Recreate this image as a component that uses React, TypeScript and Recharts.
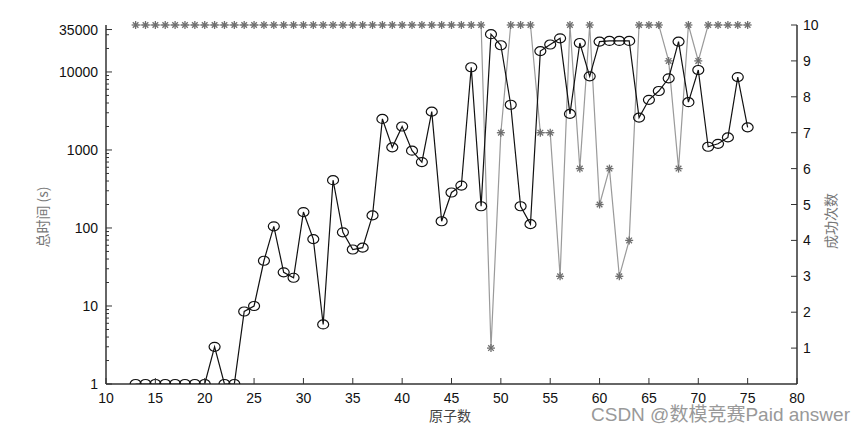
import React from "react";
import { ComposedChart, Line, XAxis, YAxis } from "recharts";

const atoms = [
  13, 14, 15, 16, 17, 18, 19, 20, 21, 22, 23, 24, 25, 26, 27, 28, 29, 30, 31,
  32, 33, 34, 35, 36, 37, 38, 39, 40, 41, 42, 43, 44, 45, 46, 47, 48, 49, 50,
  51, 52, 53, 54, 55, 56, 57, 58, 59, 60, 61, 62, 63, 64, 65, 66, 67, 68, 69,
  70, 71, 72, 73, 74, 75,
];

// 总时间 (s)
const totalTime = [
  1, 1, 1, 1, 1, 1, 1, 1, 3, 1, 1, 8.5, 10, 38, 105, 27, 23, 160, 72, 5.8, 410,
  88, 53, 56, 145, 2500, 1080, 2000, 980, 700, 3100, 122, 285, 350, 11500, 190,
  30500, 22000, 3800, 190, 112, 18500, 22500, 27000, 2900, 23500, 8800, 24500,
  25000, 25000, 25000, 2600, 4400, 5700, 8300, 24500, 4100, 10600, 1100, 1200,
  1450, 8600, 1950,
];

// 成功次数
const successCount = [
  10, 10, 10, 10, 10, 10, 10, 10, 10, 10, 10, 10, 10, 10, 10, 10, 10, 10, 10,
  10, 10, 10, 10, 10, 10, 10, 10, 10, 10, 10, 10, 10, 10, 10, 10, 10, 1, 7, 10,
  10, 10, 7, 7, 3, 10, 6, 10, 5, 6, 3, 4, 10, 10, 10, 9, 6, 10, 9, 10, 10, 10,
  10, 10,
];

const xTicks = [10, 15, 20, 25, 30, 35, 40, 45, 50, 55, 60, 65, 70, 75, 80];
const timeMajor = [1, 10, 100, 1000, 10000, 35000];
const timeMinor = [
  2, 3, 4, 5, 6, 7, 8, 9, 20, 30, 40, 50, 60, 70, 80, 90, 200, 300, 400, 500,
  600, 700, 800, 900, 2000, 3000, 4000, 5000, 6000, 7000, 8000, 9000, 20000,
  30000,
];
const countTicks = [1, 2, 3, 4, 5, 6, 7, 8, 9, 10];

const data = atoms.map((a, i) => ({
  atoms: a,
  time: totalTime[i],
  count: successCount[i],
}));

const font = "'Liberation Sans', Arial, sans-serif";
const cjk = "'Noto Sans CJK SC', sans-serif";
const axisColor = "#333";

const LeftTick = (props: any) => {
  const { x, y, payload } = props;
  const major = timeMajor.includes(payload.value);
  return (
    <g>
      <line x1={x} x2={x + (major ? 6 : 3)} y1={y} y2={y} stroke={axisColor} />
      {major && (
        <text x={x - 8} y={y + 5} textAnchor="end" fontSize={14} fill="#111" fontFamily={font}>
          {payload.value}
        </text>
      )}
    </g>
  );
};

const RightTick = (props: any) => {
  const { x, y, payload } = props;
  return (
    <g>
      <line x1={x} x2={x - 6} y1={y} y2={y} stroke={axisColor} />
      <text x={x + 6} y={y + 5} textAnchor="start" fontSize={14} fill="#111" fontFamily={font}>
        {payload.value}
      </text>
    </g>
  );
};

const BottomTick = (props: any) => {
  const { x, y, payload } = props;
  return (
    <g>
      <line x1={x} x2={x} y1={y} y2={y - 6} stroke={axisColor} />
      <text x={x} y={y + 19} textAnchor="middle" fontSize={14} fill="#111" fontFamily={font}>
        {payload.value}
      </text>
    </g>
  );
};

const Ring = (props: any) => {
  const { cx, cy, index } = props;
  return <ellipse key={"r" + index} cx={cx} cy={cy} rx={5.5} ry={4.5} fill="none" stroke="#111" strokeWidth={1.2} />;
};

const Star = (props: any) => {
  const { cx, cy, index } = props;
  const r = 4;
  const d = r * 0.7;
  return (
    <g key={"s" + index} stroke="#6e6e6e" strokeWidth={1.3}>
      <line x1={cx - r} x2={cx + r} y1={cy} y2={cy} />
      <line x1={cx} x2={cx} y1={cy - r} y2={cy + r} />
      <line x1={cx - d} x2={cx + d} y1={cy - d} y2={cy + d} />
      <line x1={cx - d} x2={cx + d} y1={cy + d} y2={cy - d} />
    </g>
  );
};

export default function App() {
  return (
    <div style={{ position: "relative", width: 865, height: 431, background: "#fff" }}>
      <style>{"body{margin:0}"}</style>
      <ComposedChart
        width={865}
        height={431}
        data={data}
        margin={{ top: 25, right: 0, bottom: 0, left: 0 }}
      >
        <XAxis
          dataKey="atoms"
          type="number"
          domain={[10, 80]}
          ticks={xTicks}
          height={47}
          tickSize={0}
          tickMargin={0}
          tickLine={false}
          tick={<BottomTick />}
          axisLine={{ stroke: axisColor, strokeWidth: 1.5 }}
          interval={0}
        />
        <YAxis
          yAxisId="time"
          scale="log"
          domain={[1, 40000]}
          allowDataOverflow
          ticks={[...timeMajor, ...timeMinor]}
          width={106}
          tickSize={0}
          tickMargin={0}
          tickLine={false}
          tick={<LeftTick />}
          axisLine={{ stroke: axisColor, strokeWidth: 1.5 }}
          interval={0}
        />
        <YAxis
          yAxisId="count"
          orientation="right"
          domain={[0, 10]}
          ticks={countTicks}
          width={68}
          tickSize={0}
          tickMargin={0}
          tickLine={false}
          tick={<RightTick />}
          axisLine={{ stroke: axisColor, strokeWidth: 1.5 }}
          interval={0}
        />
        <Line
          yAxisId="count"
          dataKey="count"
          stroke="#9a9a9a"
          strokeWidth={1.2}
          dot={Star}
          activeDot={false}
          isAnimationActive={false}
        />
        <Line
          yAxisId="time"
          dataKey="time"
          stroke="#111"
          strokeWidth={1.2}
          dot={Ring}
          activeDot={false}
          isAnimationActive={false}
        />
      </ComposedChart>
      <div
        style={{
          position: "absolute",
          left: 42,
          top: 217,
          transform: "translate(-50%, -50%) rotate(-90deg)",
          fontFamily: cjk,
          fontSize: 14,
          color: "#777",
          whiteSpace: "nowrap",
        }}
      >
        总时间 (s)
      </div>
      <div
        style={{
          position: "absolute",
          left: 830,
          top: 221,
          transform: "translate(-50%, -50%) rotate(-90deg)",
          fontFamily: cjk,
          fontSize: 14,
          color: "#777",
          whiteSpace: "nowrap",
        }}
      >
        成功次数
      </div>
      <div
        style={{
          position: "absolute",
          left: 450,
          top: 415,
          transform: "translate(-50%, -50%)",
          fontFamily: cjk,
          fontSize: 14,
          color: "#444",
          whiteSpace: "nowrap",
        }}
      >
        原子数
      </div>
      <div
        style={{
          position: "absolute",
          left: 591,
          top: 412,
          transform: "translate(0, -50%)",
          fontFamily: font,
          fontSize: 19,
          color: "#999",
          whiteSpace: "nowrap",
        }}
      >
        CSDN @<span style={{ fontFamily: cjk }}>数模竞赛</span>Paid answer
      </div>
    </div>
  );
}
